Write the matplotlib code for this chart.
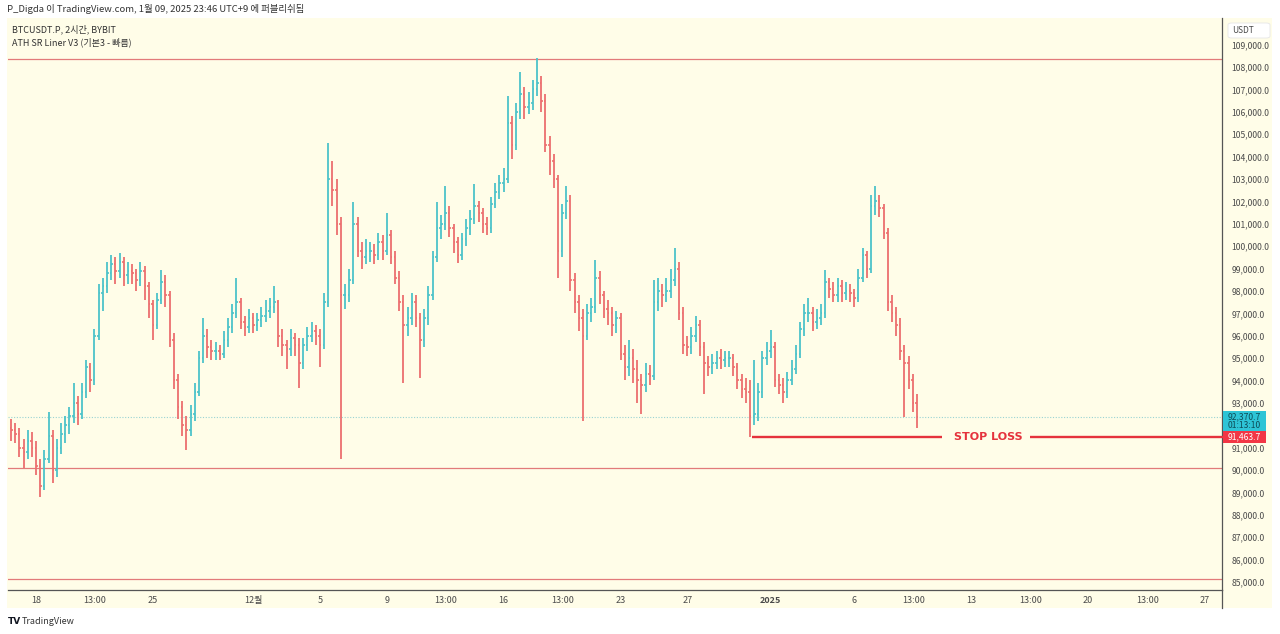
import matplotlib
matplotlib.use('Agg')
import matplotlib.pyplot as plt
import matplotlib.transforms as mtransforms
from matplotlib.patches import Rectangle, FancyBboxPatch
import numpy as np

plt.rcParams['font.family'] = ['Noto Sans CJK KR', 'DejaVu Sans']

# 6시간 봉, 가격은 천 USDT 단위, 시간은 11/18 00:00 기준 일수
start_day = -1.5
step = 0.25
first_open = 91.9

closes = [
    91.8, 91.6,
    91.0, 90.8, 91.3, 91.0,
    90.2, 89.3, 90.5, 91.5,
    90.0, 91.0, 91.6, 92.0,
    92.4, 93.0, 92.5, 93.5,
    94.6, 94.0, 96.0, 97.9,
    98.2, 98.8, 99.2, 98.9,
    99.3, 98.7, 98.9, 98.8,
    98.5, 98.9, 98.2, 97.4,
    96.5, 97.6, 98.4, 97.8,
    95.8, 94.0, 92.8, 92.0,
    91.8, 92.5, 93.5, 95.0,
    96.0, 95.5, 95.3, 95.3,
    95.2, 95.8, 96.4, 97.0,
    97.5, 96.6, 96.4, 96.8,
    96.5, 96.7, 96.9, 97.1,
    97.3, 97.5, 96.0, 95.6,
    95.4, 95.9, 95.6, 94.8,
    95.6, 96.0, 96.2, 96.0,
    95.6, 97.5, 103.0, 102.5,
    101.0, 97.8, 97.8, 98.5,
    101.0, 99.8, 99.5, 99.8,
    99.8, 99.6, 100.2, 99.8,
    100.5, 99.5, 98.6, 97.5,
    96.5, 96.8, 97.5, 96.8,
    95.8, 96.8, 97.8, 99.5,
    100.8, 101.0, 101.5, 100.8,
    100.2, 99.6, 100.3, 100.8,
    101.2, 101.8, 101.5, 101.0,
    100.8, 101.9, 102.4, 102.8,
    103.0, 105.5, 104.5, 106.0,
    106.8, 106.2, 106.4, 107.0,
    107.3, 106.5, 104.5, 103.8,
    103.0, 99.8, 101.5, 102.0,
    98.5, 97.5, 96.8, 96.0,
    97.0, 97.3, 98.6, 97.8,
    97.2, 97.0, 96.5, 96.8,
    95.2, 94.6, 95.0, 94.5,
    94.0, 93.8, 94.3, 94.2,
    97.5, 98.0, 97.8, 98.0,
    98.5, 99.0, 97.0, 95.6,
    95.5, 96.0, 96.5, 95.5,
    94.8, 94.6, 94.8, 95.0,
    94.9, 95.0, 95.0, 94.6,
    94.0, 93.6, 93.5, 92.4,
    92.5, 93.5, 95.0, 95.3,
    95.5, 94.0, 93.8, 93.5,
    94.0, 94.5, 95.2, 96.3,
    97.0, 97.0, 96.6, 96.8,
    97.0, 98.4, 98.1, 97.8,
    98.2, 97.9, 98.0, 97.9,
    97.7, 98.6, 99.6, 99.0,
    101.8, 102.0, 101.7, 100.6,
    97.5, 97.0, 96.5, 95.3,
    94.8, 94.0, 93.0, 92.3707,
]

highs = [
    92.3, 92.1,
    91.9, 91.4, 91.8, 91.7,
    91.3, 90.5, 90.9, 92.6,
    91.8, 91.4, 92.1, 92.4,
    92.8, 93.9, 93.3, 93.9,
    94.9, 94.8, 96.3, 98.3,
    98.6, 99.3, 99.6, 99.5,
    99.7, 99.5, 99.3, 99.2,
    99.0, 99.3, 99.1, 98.4,
    97.6, 97.9, 98.95, 98.7,
    98.0, 96.1, 94.3, 93.1,
    92.4, 92.9, 93.9, 95.3,
    96.8, 96.3, 95.8, 95.7,
    95.6, 96.2, 96.8, 97.4,
    98.6, 97.7, 96.9, 97.2,
    97.0, 97.0, 97.3, 97.6,
    97.7, 98.2, 97.6, 96.3,
    95.8, 96.3, 96.1, 95.9,
    95.9, 96.4, 96.6, 96.5,
    96.3, 97.9, 104.6, 103.8,
    103.0, 101.3, 98.3, 99.0,
    101.95, 101.3, 100.2, 100.3,
    100.2, 100.1, 100.6, 100.5,
    101.5, 100.7, 99.8, 98.9,
    97.8, 97.3, 97.9, 97.8,
    97.0, 97.2, 98.2, 99.8,
    101.95, 101.4, 102.7, 101.8,
    101.0, 100.4, 100.6, 101.2,
    101.6, 102.76, 102.0, 101.7,
    101.3, 102.2, 102.8, 103.2,
    103.5, 106.7, 105.8, 106.4,
    107.8, 107.1, 106.9, 107.4,
    108.4, 107.6, 106.8, 104.9,
    104.1, 103.2, 101.9, 102.7,
    102.3, 98.8, 97.8, 97.2,
    97.4, 97.7, 99.4, 98.9,
    98.0, 97.6, 97.3, 97.1,
    97.0, 95.6, 95.8, 95.4,
    94.9, 94.3, 94.8, 94.7,
    98.5, 98.6, 98.3, 98.6,
    99.0, 99.9, 99.3, 97.3,
    96.0, 96.4, 96.9, 96.7,
    95.7, 95.1, 95.2, 95.3,
    95.4, 95.3, 95.3, 95.2,
    94.8, 94.3, 94.1, 94.0,
    94.9, 93.9, 95.3, 95.7,
    96.25, 95.7, 94.3, 94.1,
    94.4, 94.9, 95.6, 96.6,
    97.4, 97.7, 97.3, 97.2,
    97.4, 98.95, 98.6, 98.4,
    98.6, 98.5, 98.4, 98.3,
    98.1, 99.0, 99.9, 99.8,
    102.3, 102.7, 102.3, 101.9,
    100.8, 97.8, 97.3, 96.8,
    95.6, 95.1, 94.3, 93.4,
]

lows = [
    91.3, 91.2,
    90.6, 90.1, 90.5, 90.6,
    89.8, 88.8, 89.1, 90.3,
    89.4, 89.7, 90.7, 91.2,
    91.6, 92.1, 92.0, 92.3,
    93.2, 93.5, 93.8, 95.8,
    97.1, 97.9, 98.5, 98.3,
    98.6, 98.2, 98.3, 98.3,
    98.0, 98.2, 97.6, 96.8,
    95.8, 96.3, 97.4, 97.3,
    95.5, 93.6, 92.3, 91.5,
    90.9, 91.5, 92.2, 93.3,
    94.8, 95.0, 94.9, 94.9,
    94.9, 95.0, 95.5, 96.1,
    96.8, 96.3, 96.0, 96.1,
    96.1, 96.2, 96.4, 96.6,
    96.8, 97.0, 95.5, 95.1,
    94.5, 95.1, 95.1, 93.65,
    94.5, 95.3, 95.7, 95.6,
    94.6, 95.4, 97.3, 101.8,
    100.5, 90.5, 97.2, 97.5,
    98.3, 99.5, 99.0, 99.2,
    99.3, 99.2, 99.4, 99.4,
    99.6, 99.2, 98.3, 97.1,
    93.9, 96.0, 96.5, 96.4,
    94.1, 95.5, 96.5, 97.6,
    99.3, 100.3, 100.7, 100.4,
    99.7, 99.26, 99.4, 100.0,
    100.5, 101.0, 101.1, 100.6,
    100.5, 100.6, 101.7, 102.1,
    102.4, 102.8, 103.9, 104.3,
    105.7, 105.7, 105.9, 106.1,
    106.7, 106.0, 104.2, 103.2,
    102.6, 98.6, 99.5, 101.2,
    98.0, 97.0, 96.2, 92.2,
    95.8, 96.6, 97.0, 97.4,
    96.8, 96.5, 96.0, 96.1,
    94.9, 94.0, 94.2, 93.9,
    93.0, 92.5, 93.5, 93.8,
    94.0, 97.1, 97.3, 97.5,
    97.7, 98.2, 96.7, 95.2,
    95.1, 95.2, 95.7, 95.1,
    93.4, 94.2, 94.3, 94.5,
    94.5, 94.6, 94.6, 94.2,
    93.6, 93.2, 93.0, 91.46,
    92.0, 92.2, 93.2, 94.7,
    95.0, 93.7, 93.4, 93.0,
    93.2, 93.8, 94.3, 95.0,
    96.0, 96.6, 96.2, 96.3,
    96.5, 96.8, 97.7, 97.5,
    97.5, 97.5, 97.6, 97.5,
    97.3, 97.5, 98.4, 98.6,
    98.8, 101.4, 101.3, 100.3,
    97.1, 96.6, 96.0, 94.9,
    92.35, 93.6, 92.6, 91.9,
]

sr_levels = [108360, 90090, 85130]
current_price = 92370.7
stop_loss = 91463.7
time_ticks = [0, 3.54, 7, 13, 17, 21, 24.54, 28, 31.54, 35, 39, 44, 49, 52.54, 56, 59.54, 63, 66.54, 70]
time_labels = ['18', '13:00', '25', '12월', '5', '9', '13:00', '16', '13:00', '23',
               '27', '2025', '6', '13:00', '13', '13:00', '20', '13:00', '27']
price_ticks = list(range(85000, 110000, 1000))

W, H = 1280, 634
bg = '#fffde8'
up_col = '#4cc3c9'
dn_col = '#ec6f6f'
txt_col = '#4a4a4a'


def fx(x):
    return x / W


def fy(y):
    return 1 - y / H


fig = plt.figure(figsize=(W / 100, H / 100), dpi=100)
fig.patch.set_facecolor('white')
fig.patches.append(Rectangle((fx(7), fy(608)), fx(1272) - fx(7), fy(18) - fy(608),
                             transform=fig.transFigure, facecolor=bg, edgecolor='none', zorder=-5))

ax = fig.add_axes([fx(8), fy(590), (1222 - 8) / W, (590 - 18) / H])
ax.set_zorder(2)
ax.set_facecolor(bg)

c = np.array(closes) * 1000
h = np.array(highs) * 1000
l = np.array(lows) * 1000
o = np.concatenate([[first_open * 1000], c[:-1]])
t = start_day + step * np.arange(len(c))

up = c >= o
for mask, col in [(up, up_col), (~up, dn_col)]:
    ax.vlines(t[mask], l[mask], h[mask], color=col, lw=1.3)
    ax.hlines(o[mask], t[mask] - 0.09, t[mask], color=col, lw=1.2)
    ax.hlines(c[mask], t[mask], t[mask] + 0.09, color=col, lw=1.2)

# ATH SR 라인
for lvl in sr_levels:
    ax.axhline(lvl, color='#e27a7a', lw=0.9, zorder=1)

# 현재가 점선
ax.axhline(current_price, color='#9ad3d3', lw=0.8, ls=(0, (1, 1.5)), zorder=1)

# 손절 라인
sl_col = '#e5323c'
ax.hlines(stop_loss, 42.87, 54.25, color=sl_col, lw=1.7, zorder=3)
ax.hlines(stop_loss, 59.5, 71.1, color=sl_col, lw=1.7, zorder=3, clip_on=False)
ax.text(57.0, stop_loss, 'STOP LOSS', color=sl_col, fontsize=8, fontweight='bold',
        ha='center', va='center', family=['DejaVu Sans'], zorder=3)

ax.set_xlim(-1.68, 71.02)
ax.set_ylim(84643, 110190)

ax.set_xticks(time_ticks)
ax.set_xticklabels(time_labels)
for lab in ax.get_xticklabels():
    if lab.get_text() == '2025':
        lab.set_fontweight('bold')
ax.tick_params(axis='x', length=0, pad=4, labelsize=6.5, labelcolor=txt_col)

ax.yaxis.tick_right()
ax.set_yticks(price_ticks)
# 92,000 라벨은 현재가 박스에 가려짐
ax.set_yticklabels(['' if p == 92000 else f'{p:,.1f}' for p in price_ticks])
ax.tick_params(axis='y', length=0, pad=7, labelsize=6.2, labelcolor=txt_col)

for s in ['top', 'left']:
    ax.spines[s].set_visible(False)
for s in ['right', 'bottom']:
    ax.spines[s].set_color('#555555')
    ax.spines[s].set_linewidth(0.9)
fig.add_artist(plt.Line2D([fx(1222), fx(1222)], [fy(590), fy(608)], color='#555555', lw=0.9))

# 가격 라벨
px = (110190 - 84643) / (590 - 18)
tr = mtransforms.blended_transform_factory(ax.transAxes, ax.transData)
ax.add_patch(Rectangle((1.001, current_price - 15 * px), 0.035, 21 * px, transform=tr,
                       facecolor='#2ec4d6', edgecolor='none', clip_on=False, zorder=5))
ax.text(1.018, current_price, '92,370.7', transform=tr, fontsize=6.2, color='#0d4d58',
        ha='center', va='center', clip_on=False, zorder=6)
ax.text(1.018, current_price - 9 * px, '01:13:10', transform=tr, fontsize=6.2, color='#0d4d58',
        ha='center', va='center', clip_on=False, zorder=6)
ax.add_patch(Rectangle((1.001, stop_loss - 6 * px), 0.035, 12 * px, transform=tr,
                       facecolor='#f23645', edgecolor='none', clip_on=False, zorder=5))
ax.text(1.018, stop_loss, '91,463.7', transform=tr, fontsize=6.2, color='white',
        ha='center', va='center', clip_on=False, zorder=6)

# USDT 박스
fig.patches.append(FancyBboxPatch((fx(1228), fy(38)), fx(1270) - fx(1228), fy(23) - fy(38),
                                  boxstyle='round,pad=0,rounding_size=0.003',
                                  transform=fig.transFigure, facecolor='white',
                                  edgecolor='#e6e6e6', lw=0.6, zorder=10))
fig.text(fx(1232), fy(30.5), 'USDT', fontsize=6, color=txt_col, va='center', zorder=11)

# 텍스트
fig.text(fx(7), fy(9), 'P_Digda 이 TradingView.com, 1월 09, 2025 23:46 UTC+9 에 퍼블리쉬됨',
         fontsize=6.8, color='#333333', va='center')
fig.text(fx(12), fy(29), 'BTCUSDT.P, 2시간, BYBIT', fontsize=6.5, color='#333333', va='center',
         zorder=11)
fig.text(fx(12), fy(42), 'ATH SR Liner V3 (기본3 - 빠름)', fontsize=6.5, color='#333333', va='center',
         zorder=11)
fig.text(fx(8), fy(621), 'TV', fontsize=6.5, fontweight='bold', color='#131722', va='center',
         family=['DejaVu Sans'])
fig.text(fx(22), fy(621), 'TradingView', fontsize=6.5, color='#333333', va='center')

fig.savefig('out.png', dpi=100, facecolor='white')
